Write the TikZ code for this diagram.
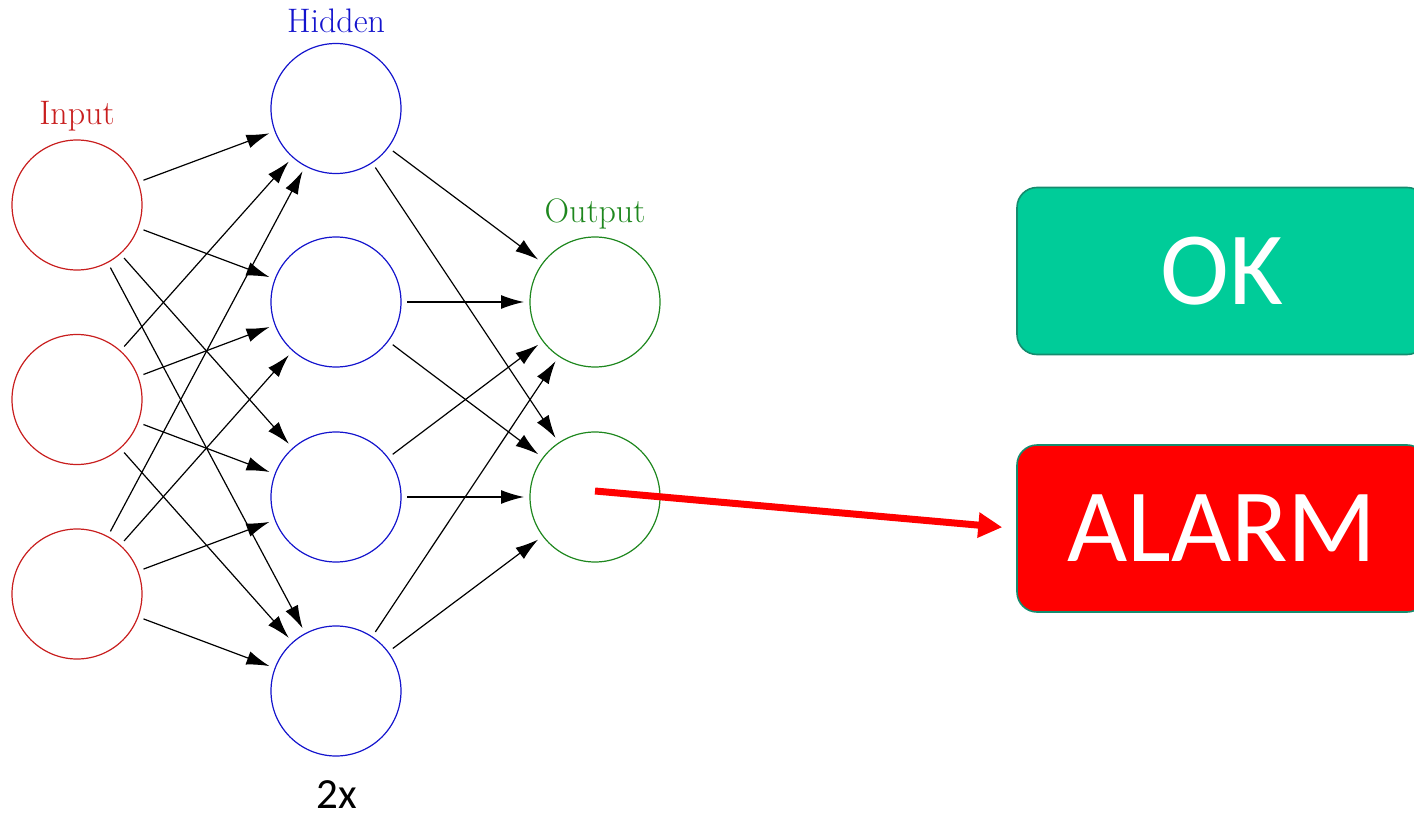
\documentclass[tikz,border=0pt]{standalone}
\usepackage{fontspec}
\usetikzlibrary{arrows.meta}
\newfontfamily\calfont{Carlito}
\definecolor{inred}{RGB}{200,30,30}
\definecolor{hidblue}{RGB}{20,20,205}
\definecolor{outgreen}{RGB}{30,135,30}
\definecolor{okfill}{RGB}{0,204,153}
\definecolor{boxedge}{RGB}{20,140,110}
\definecolor{alarmred}{RGB}{255,0,0}
\begin{document}
\begin{tikzpicture}[x=0.5pt,y=-0.5pt,
  neuron/.style={circle,draw,line width=0.6pt,minimum size=65pt,inner sep=0pt,outer sep=3pt},
  inneuron/.style={neuron,draw=inred},
  hidneuron/.style={neuron,draw=hidblue},
  outneuron/.style={neuron,draw=outgreen},
  layerlabel/.style={anchor=base,inner sep=0pt,font=\fontsize{17}{20}\selectfont},
  conn/.style={draw=black,line width=0.6pt,-{Latex[length=11.5pt,width=7pt]}},
  decision/.style={rounded corners=10pt,line width=0.8pt,draw=boxedge,minimum width=205pt,minimum height=83.5pt,inner sep=0pt,text=white,font=\calfont\fontsize{52}{60}\selectfont},
  alarmarrow/.style={draw=alarmred,line width=3.5pt,-{Triangle[length=12pt,width=12pt]}}
]
\useasboundingbox (0,0) rectangle (1414,813);
% layers
\node[inneuron] (i1) at (77,205) {};
\node[inneuron] (i2) at (77,399.5) {};
\node[inneuron] (i3) at (77,594) {};
\node[hidneuron] (h1) at (336,108.5) {};
\node[hidneuron] (h2) at (336,302) {};
\node[hidneuron] (h3) at (336,497) {};
\node[hidneuron] (h4) at (336,691) {};
\node[outneuron] (o1) at (595,302) {};
\node[outneuron] (o2) at (595,497) {};
% labels
\node[layerlabel,text=inred] (lin) at (77,125) {Input};
\node[layerlabel,text=hidblue] (lhid) at (336,33) {Hidden};
\node[layerlabel,text=outgreen] (lout) at (595,222) {Output};
\node[inner sep=0pt,font=\calfont\fontsize{21.5}{26}\selectfont] (two) at (337,795) {2x};
% connections
\foreach \i in {1,2,3}{
  \foreach \h in {1,2,3,4}{
    \draw[conn] (i\i) -- (h\h);
  }
}
\foreach \h in {1,2,3,4}{
  \foreach \o in {1,2}{
    \draw[conn] (h\h) -- (o\o);
  }
}
% decision boxes
\node[decision,fill=okfill] (ok) at (1222,271) {OK};
\node[decision,fill=alarmred] (alarm) at (1222,528.5) {ALARM};
\draw[alarmarrow,shorten >=7pt] (o2.center) ++(0,-6) coordinate (start) -- (alarm.west);
\end{tikzpicture}
\end{document}
